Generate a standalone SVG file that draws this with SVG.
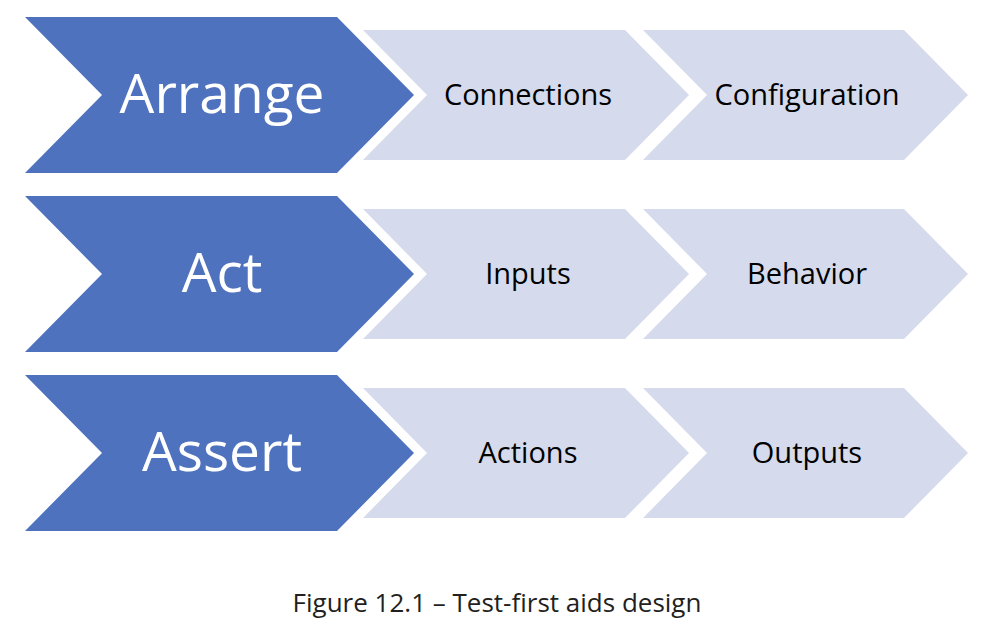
<svg xmlns="http://www.w3.org/2000/svg" width="984" height="632" viewBox="0 0 984 632">
<style>
.dark{fill:#4E72BE;}
.light{fill:#D5DAEC;}
.big{font-family:"Open Sans","Liberation Sans",sans-serif;font-size:55px;fill:#ffffff;text-anchor:middle;}
.small{font-family:"Open Sans","Liberation Sans",sans-serif;font-size:29px;fill:#000000;text-anchor:middle;}
.cap{font-family:"Open Sans","Liberation Sans",sans-serif;font-size:26px;fill:#231f20;text-anchor:middle;}
</style>
<rect width="984" height="632" fill="#ffffff"/>
<g id="arrange">
<polygon class="dark" points="25,17 337,17 414,95 337,173 25,173 102,95"/>
<text class="big" x="222" y="113">Arrange</text>
</g>
<g id="connections">
<polygon class="light" points="363,30 625,30 689,95 625,160 363,160 427,95"/>
<text class="small" x="528" y="105">Connections</text>
</g>
<g id="configuration">
<polygon class="light" points="643,30 904,30 968,95 904,160 643,160 707,95"/>
<text class="small" x="807" y="105">Configuration</text>
</g>
<g id="act">
<polygon class="dark" points="25,196 337,196 414,274 337,352 25,352 102,274"/>
<text class="big" x="222" y="292">Act</text>
</g>
<g id="inputs">
<polygon class="light" points="363,209 625,209 689,274 625,339 363,339 427,274"/>
<text class="small" x="528" y="284">Inputs</text>
</g>
<g id="behavior">
<polygon class="light" points="643,209 904,209 968,274 904,339 643,339 707,274"/>
<text class="small" x="807" y="284">Behavior</text>
</g>
<g id="assert">
<polygon class="dark" points="25,375 337,375 414,453 337,531 25,531 102,453"/>
<text class="big" x="222" y="471">Assert</text>
</g>
<g id="actions">
<polygon class="light" points="363,388 625,388 689,453 625,518 363,518 427,453"/>
<text class="small" x="528" y="463">Actions</text>
</g>
<g id="outputs">
<polygon class="light" points="643,388 904,388 968,453 904,518 643,518 707,453"/>
<text class="small" x="807" y="463">Outputs</text>
</g>
<g id="connectors"></g>
<text class="cap" x="497" y="612">Figure 12.1 – Test-first aids design</text>
</svg>
